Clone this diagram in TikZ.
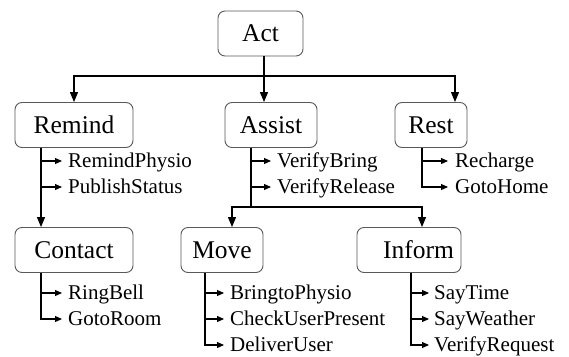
\documentclass[tikz,border=0pt]{standalone}
\usepackage{fontspec}
\setmainfont{Liberation Serif}
\usetikzlibrary{arrows.meta}
\begin{document}
\begin{tikzpicture}[x=1pt,y=-1pt,
  box/.style={draw=black!65, line width=0.9pt, rounded corners=7pt, font=\rmfamily\fontsize{25.5pt}{28pt}\selectfont, text height=16.9pt, text depth=0pt, inner sep=0pt, minimum height=45pt},
  item/.style={anchor=west, inner sep=0pt, font=\rmfamily\fontsize{21pt}{24pt}\selectfont, text height=13.9pt, text depth=0pt},
  conn/.style={line width=1.1pt, -{Triangle[length=10pt,width=8pt]}},
  sub/.style={line width=1.1pt, -{Triangle[length=7pt,width=6pt]}},
  plain/.style={line width=1.1pt}]
\useasboundingbox (0,0) rectangle (569,356);
% boxes
\node[box, minimum width=85pt] (act) at (260.5,33.5) {Act};
\node[box, minimum width=118pt] (remind) at (74,125) {Remind};
\node[box, minimum width=92pt] (assist) at (271,125) {Assist};
\node[box, minimum width=72pt] (rest) at (431,125) {Rest};
\node[box, minimum width=118pt] (contact) at (74,250) {Contact};
\node[box, minimum width=82pt] (move) at (222,250) {Move};
\node[box, text width=90pt, align=right, inner xsep=7pt] (inform) at (409,250) {Inform};
% items
\node[item] (rp) at (68,161) {RemindPhysio};
\node[item] (ps) at (68,187) {PublishStatus};
\node[item] (vb) at (277,161) {VerifyBring};
\node[item] (vr) at (277,187) {VerifyRelease};
\node[item] (rc) at (455,161) {Recharge};
\node[item] (gh) at (455,187) {GotoHome};
\node[item] (rb) at (68,293) {RingBell};
\node[item] (gr) at (68,319) {GotoRoom};
\node[item] (bp) at (230,293) {BringtoPhysio};
\node[item] (cu) at (230,319) {CheckUserPresent};
\node[item] (du) at (230,345) {DeliverUser};
\node[item] (st) at (434,293) {SayTime};
\node[item] (sw) at (434,319) {SayWeather};
\node[item] (vq) at (434,345) {VerifyRequest};
% top level
\coordinate (s1) at (264,76);
\draw[plain] (act.south -| s1) -- (s1);
\draw[conn] (s1) -| (remind.north);
\draw[conn] (s1) -- (s1 |- assist.north);
\draw[conn] (s1) -| ([xshift=24pt]rest.north);
% remind
\coordinate (rl) at (41,0);
\draw[conn] (remind.south -| rl) -- (contact.north -| rl);
\draw[sub] (remind.south -| rl) |- ([xshift=-6pt]rp.west);
\draw[sub] (remind.south -| rl) |- ([xshift=-6pt]ps.west);
% assist
\coordinate (s2) at (251,207);
\draw[plain] (assist.south -| s2) -- (s2);
\draw[sub] (assist.south -| s2) |- ([xshift=-6pt]vb.west);
\draw[sub] (assist.south -| s2) |- ([xshift=-6pt]vr.west);
\draw[conn] (s2) -| ([xshift=10pt]move.north);
\draw[conn] (s2) -| ([xshift=13pt]inform.north);
% rest
\coordinate (tl) at (422,0);
\draw[sub] (rest.south -| tl) |- ([xshift=-7pt]rc.west);
\draw[sub] (rest.south -| tl) |- ([xshift=-7pt]gh.west);
% contact
\draw[sub] (contact.south -| rl) |- ([xshift=-6pt]rb.west);
\draw[sub] (contact.south -| rl) |- ([xshift=-6pt]gr.west);
% move
\coordinate (ml) at (205,0);
\draw[sub] (move.south -| ml) |- ([xshift=-6pt]bp.west);
\draw[sub] (move.south -| ml) |- ([xshift=-6pt]cu.west);
\draw[sub] (move.south -| ml) |- ([xshift=-6pt]du.west);
% inform
\coordinate (il) at (411,0);
\draw[sub] (inform.south -| il) |- ([xshift=-5pt]st.west);
\draw[sub] (inform.south -| il) |- ([xshift=-5pt]sw.west);
\draw[sub] (inform.south -| il) |- ([xshift=-5pt]vq.west);
\end{tikzpicture}
\end{document}
